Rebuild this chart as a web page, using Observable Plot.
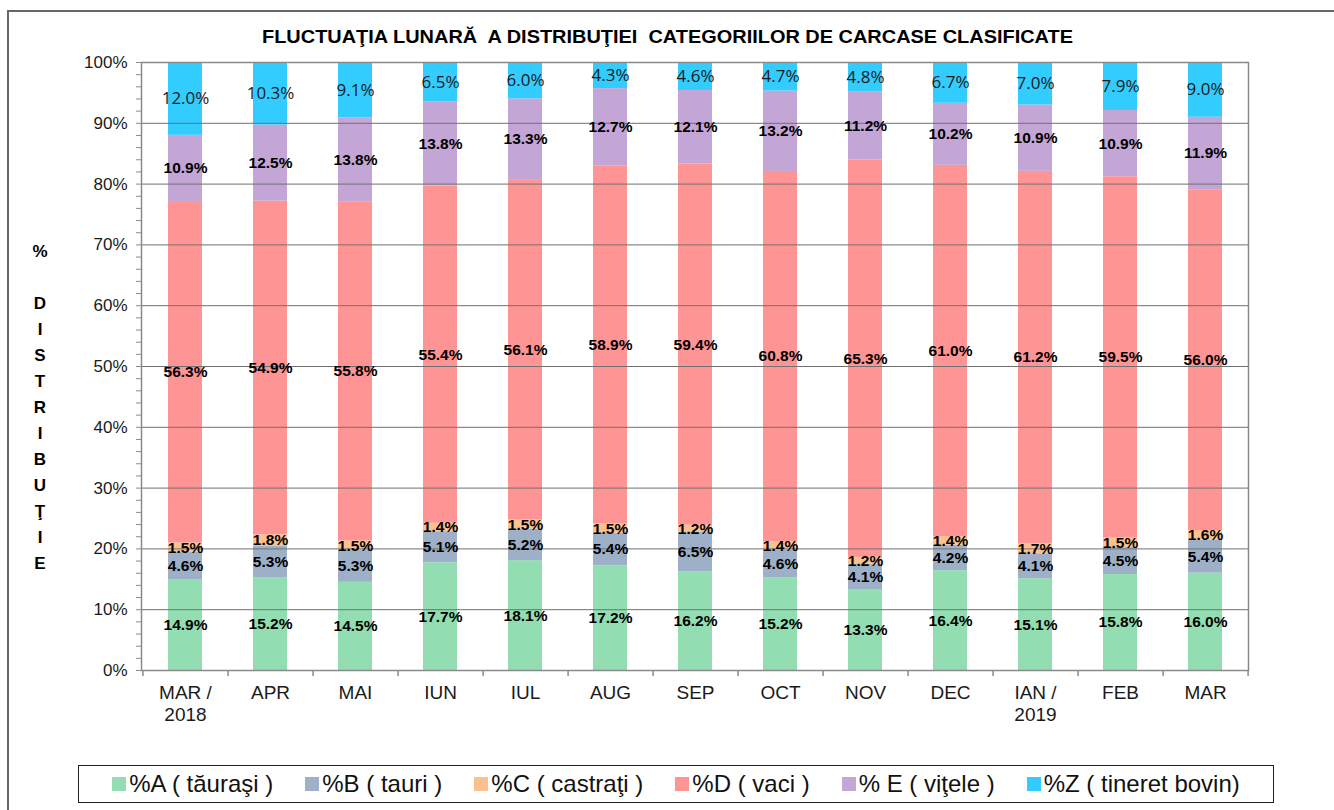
<!DOCTYPE html>
<html>
<head>
<meta charset="utf-8">
<script src="https://cdn.jsdelivr.net/npm/d3@7"></script>
<script src="https://cdn.jsdelivr.net/npm/@observablehq/plot@0.6"></script>
<style>
  html, body { margin: 0; padding: 0; background: #fff; }
  #wrap { position: relative; width: 1334px; height: 810px; overflow: hidden; font-family: "Liberation Sans", Arial, sans-serif; }
  #frame { position: absolute; left: 7px; top: 10px; width: 1500px; height: 1000px; border-left: 2px solid #666; border-top: 2px solid #666; }
  #chart { position: absolute; left: 0; top: 0; }
  #title { position: absolute; left: 0; width: 1334px; top: 26px; text-align: center; font-weight: bold; font-size: 19px; white-space: pre; color: #000; }
  #title span { display: inline-block; transform-origin: center; }
  #ylab { position: absolute; left: 20px; width: 40px; top: 239px; text-align: center; font-weight: bold; font-size: 17px; line-height: 26px; color: #000; }
  #legend { position: absolute; left: 78px; top: 765px; width: 1196px; height: 38px; box-sizing: border-box; border: 1.5px solid #222; display: flex; align-items: center; justify-content: center; gap: 32px; font-size: 24px; color: #111; }
  .item { display: flex; align-items: center; gap: 3px; white-space: pre; }
  .sw { width: 14px; height: 14px; display: inline-block; }
</style>
</head>
<body>
<div id="wrap">
  <div id="frame"></div>
  <div id="chart"></div>
  <div id="title"><span id="titletext"></span></div>
  <div id="ylab"></div>
  <div id="legend"></div>
</div>
<script>
const titleText = "FLUCTUAŢIA LUNARĂ  A DISTRIBUŢIEI  CATEGORIILOR DE CARCASE CLASIFICATE";
const yLabelLetters = ["%", "", "D", "I", "S", "T", "R", "I", "B", "U", "Ţ", "I", "E"];
const months = ["MAR /\n2018", "APR", "MAI", "IUN", "IUL", "AUG", "SEP", "OCT", "NOV", "DEC", "IAN /\n2019", "FEB", "MAR"];
const seriesKeys = ["A", "B", "C", "D", "E", "Z"];
const seriesNames = ["%A ( tăuraşi )", "%B ( tauri )", "%C ( castraţi )", "%D ( vaci )", "% E ( viţele )", "%Z ( tineret bovin)"];
const seriesColors = ["#92DEB2", "#9DB0C8", "#FBC18F", "#FF9494", "#C3A6D5", "#33CCFF"];
const valsA = [14.9, 15.2, 14.5, 17.7, 18.1, 17.2, 16.2, 15.2, 13.3, 16.4, 15.1, 15.8, 16.0];
const valsB = [4.6, 5.3, 5.3, 5.1, 5.2, 5.4, 6.5, 4.6, 4.1, 4.2, 4.1, 4.5, 5.4];
const valsC = [1.5, 1.8, 1.5, 1.4, 1.5, 1.5, 1.2, 1.4, 1.2, 1.4, 1.7, 1.5, 1.6];
const valsD = [56.3, 54.9, 55.8, 55.4, 56.1, 58.9, 59.4, 60.8, 65.3, 61.0, 61.2, 59.5, 56.0];
const valsE = [10.9, 12.5, 13.8, 13.8, 13.3, 12.7, 12.1, 13.2, 11.2, 10.2, 10.9, 10.9, 11.9];
const valsZ = [12.0, 10.3, 9.1, 6.5, 6.0, 4.3, 4.6, 4.7, 4.8, 6.7, 7.0, 7.9, 9.0];
const yTicks = [0, 0.1, 0.2, 0.3, 0.4, 0.5, 0.6, 0.7, 0.8, 0.9, 1.0];
const yMinorTicks = d3.range(0, 51).map(i => i / 50);

const allVals = [valsA, valsB, valsC, valsD, valsE, valsZ];
const data = [];
months.forEach((m, i) => {
  seriesKeys.forEach((k, j) => data.push({month: m, series: k, value: allVals[j][i]}));
});

const W = 1334, H = 720, mL = 141, mR = 86, mT = 62, mB = 50;
const step = (W - mL - mR) / months.length;
const fmt = v => v.toFixed(1) + "%";

const chart = Plot.plot({
  width: W, height: H,
  marginLeft: mL, marginRight: mR, marginTop: mT, marginBottom: mB,
  style: {fontFamily: "'Liberation Sans', Arial, sans-serif", background: "transparent", overflow: "visible"},
  x: {domain: months, paddingInner: 0.6, paddingOuter: 0.3, label: null},
  y: {domain: [0, 1], label: null},
  color: {domain: seriesKeys, range: seriesColors},
  marks: [
    Plot.barY(data, Plot.stackY({offset: "normalize", x: "month", y: "value", fill: "series"})),
    Plot.gridY(yTicks, {stroke: "#707070", strokeOpacity: 1, strokeWidth: 1}),
    Plot.frame({stroke: "#8a8a8a", strokeWidth: 1.5}),
    Plot.axisY(yMinorTicks, {tickSize: 5, text: null, stroke: "#8a8a8a"}),
    Plot.axisY(yTicks, {tickSize: 0, tickPadding: 14, tickFormat: d => Math.round(d * 100) + "%", fontSize: 17, fill: "#1a1a1a"}),
    Plot.axisX({tickSize: 0, tickPadding: 12, fontSize: 19, lineHeight: 1.2, fill: "#1a1a1a"}),
    Plot.ruleX(months, {x: d => d, y1: 0, y2: 0, insetBottom: -6, dx: step / 2, stroke: "#8a8a8a", strokeWidth: 1.5}),
    Plot.ruleX([months[0]], {x: d => d, y1: 0, y2: 0, insetBottom: -6, dx: -step / 2, stroke: "#8a8a8a", strokeWidth: 1.5}),
    Plot.text(data, Plot.stackY({offset: "normalize", x: "month", y: "value",
      text: d => d.series === "Z" ? null : fmt(d.value),
      fontWeight: "bold", fontSize: 15.5, fill: "#000"})),
    Plot.text(data, Plot.stackY({offset: "normalize", x: "month", y: "value",
      text: d => d.series === "Z" ? fmt(d.value) : null,
      fontFamily: "'Open Sans', sans-serif", fontSize: 17, fill: "#1a1a1a"}))
  ]
});
document.getElementById("chart").appendChild(chart);

// title
const tt = document.getElementById("titletext");
tt.textContent = titleText;
const tw = tt.getBoundingClientRect().width;
tt.style.transform = `scaleX(${811 / tw})`;

// y label
document.getElementById("ylab").innerHTML = yLabelLetters.map(l => l === "" ? "&nbsp;" : l).join("<br>");

// legend
const leg = document.getElementById("legend");
seriesNames.forEach((n, i) => {
  const it = document.createElement("div");
  it.className = "item";
  const sw = document.createElement("span");
  sw.className = "sw";
  sw.style.background = seriesColors[i];
  const tx = document.createElement("span");
  tx.textContent = n;
  it.appendChild(sw); it.appendChild(tx);
  leg.appendChild(it);
});
</script>
</body>
</html>
